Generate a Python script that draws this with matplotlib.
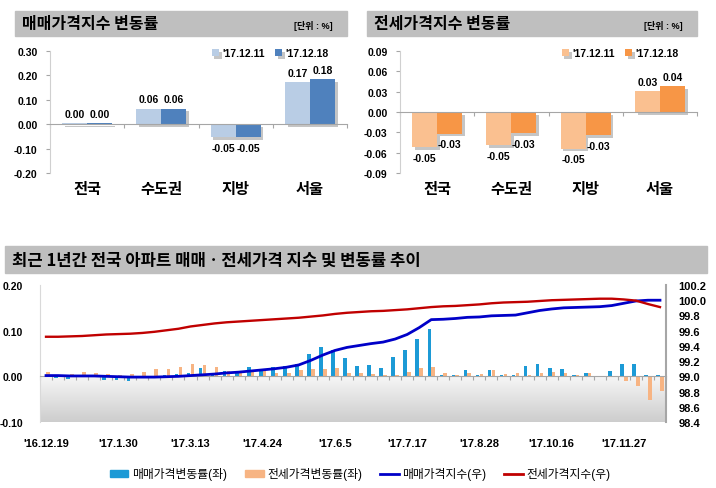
"""Weekly apartment sale / jeonse price index change chart (three panels)."""

import matplotlib

matplotlib.use("Agg")
import matplotlib.patheffects as pe
import matplotlib.pyplot as plt
import numpy as np
from matplotlib.colors import LinearSegmentedColormap
from matplotlib.lines import Line2D
from matplotlib.patches import Patch, Rectangle

plt.rcParams["font.family"] = ["Liberation Sans", "Noto Sans CJK KR", "DejaVu Sans"]

# --- top panels: weekly change by region (%) ---
regions = ["전국", "수도권", "지방", "서울"]
series_labels = ["'17.12.11", "'17.12.18"]
sale_prev = [0.003, 0.064, -0.054, 0.174]
sale_curr = [0.004, 0.064, -0.054, 0.184]
jeonse_prev = [-0.052, -0.049, -0.054, 0.031]
jeonse_curr = [-0.032, -0.031, -0.034, 0.038]

# --- bottom panel: 52 weekly observations '16.12.19 .. '17.12.18 ---
date_ticks = ["'16.12.19", "'17.1.30", "'17.3.13", "'17.4.24", "'17.6.5",
              "'17.7.17", "'17.8.28", "'17.10.16", "'17.11.27"]
sale_chg = [0.001, -0.004, -0.006, -0.002, 0.001, -0.007, -0.009, -0.011, 0.000, 0.001,
            0.003, 0.005, 0.008, 0.019, 0.004, 0.012, 0.011, 0.021, 0.016, 0.021,
            0.022, 0.026, 0.049, 0.065, 0.057, 0.040, 0.023, 0.024, 0.018, 0.042,
            0.058, 0.082, 0.103, 0.004, 0.004, 0.014, 0.004, 0.014, 0.004, 0.004,
            0.022, 0.027, 0.018, 0.017, 0.002, 0.007, 0.001, 0.012, 0.028, 0.027,
            0.002, 0.002]
jeonse_chg = [0.010, 0.001, 0.005, 0.010, 0.007, 0.005, 0.004, 0.006, 0.010, 0.015,
              0.015, 0.020, 0.026, 0.024, 0.020, 0.012, 0.009, 0.011, 0.011, 0.007,
              0.007, 0.013, 0.015, 0.017, 0.018, 0.007, 0.007, 0.005, 0.004, 0.004,
              0.010, 0.018, 0.020, 0.008, 0.002, 0.008, 0.006, 0.013, 0.005, 0.007,
              0.004, 0.008, 0.010, 0.007, 0.003, 0.007, 0.001, -0.002, -0.011, -0.022,
              -0.051, -0.033]
sale_idx = [99.01, 99.01, 99.005, 99.005, 99.005, 99.0, 98.995, 98.99, 98.99, 98.99,
            98.995, 99.0, 99.01, 99.02, 99.03, 99.045, 99.055, 99.07, 99.085, 99.10,
            99.12, 99.15, 99.21, 99.28, 99.34, 99.38, 99.405, 99.43, 99.45, 99.49,
            99.55, 99.64, 99.745, 99.75, 99.76, 99.775, 99.78, 99.795, 99.80, 99.805,
            99.835, 99.865, 99.885, 99.90, 99.905, 99.91, 99.915, 99.93, 99.96, 99.99,
            100.0, 100.0]
jeonse_idx = [99.52, 99.52, 99.525, 99.53, 99.54, 99.55, 99.555, 99.56, 99.57, 99.585,
              99.605, 99.625, 99.655, 99.675, 99.695, 99.71, 99.72, 99.73, 99.74, 99.75,
              99.76, 99.77, 99.785, 99.80, 99.82, 99.835, 99.845, 99.855, 99.86, 99.87,
              99.88, 99.895, 99.91, 99.92, 99.925, 99.935, 99.945, 99.96, 99.97, 99.975,
              99.98, 99.99, 100.0, 100.005, 100.01, 100.015, 100.02, 100.02, 100.01, 99.995,
              99.95, 99.91]

W, H = 716, 489
GRID = "#A6A6A6"
fig = plt.figure(figsize=(W / 100, H / 100), dpi=100, facecolor="white")


def px_rect(x0, y0, x1, y1):
    """Pixel box (top-left origin) -> figure fraction rect."""
    return [x0 / W, 1 - y1 / H, (x1 - x0) / W, (y1 - y0) / H]


def title_bar(x0, y0, x1, y1, text, unit=None, size=11.5):
    fig.add_artist(Rectangle((x0 / W, 1 - y1 / H), (x1 - x0) / W, (y1 - y0) / H,
                             transform=fig.transFigure, color="#BFBFBF", zorder=0))
    fig.text((x0 + 7) / W, 1 - (y0 + y1) / 2 / H, text, ha="left", va="center",
             fontsize=size, fontweight="heavy", family=["Noto Sans CJK KR"])
    if unit:
        fig.text((x1 - 34) / W, 1 - (y0 + y1 + 3) / 2 / H, unit, ha="center", va="center",
                 fontsize=6.5, fontweight="bold")


def change_panel(rect, prev, curr, colors, ylim, yticks):
    ax = fig.add_axes(px_rect(*rect))
    x = np.arange(len(regions))
    w = 0.337
    shadow = [pe.SimplePatchShadow(offset=(2, -2), shadow_rgbFace="#7F7F7F", alpha=0.45),
              pe.Normal()]
    for off, vals, color, label in ((-w / 2, prev, colors[0], series_labels[0]),
                                    (w / 2, curr, colors[1], series_labels[1])):
        bars = ax.bar(x + off, vals, w, color=color, label=label, zorder=2)
        for b in bars:
            b.set_path_effects(shadow)
        for xi, v in zip(x + off, vals):
            ax.annotate(f"{v:.2f}", (xi, v), xytext=(0, 3 if v >= 0 else -4),
                        textcoords="offset points", ha="center",
                        va="bottom" if v >= 0 else "top", fontsize=7.5, fontweight="bold")
    for xi, name in zip(x, regions):
        ax.text(xi, -0.13, name, transform=ax.get_xaxis_transform(), ha="center",
                va="center", fontsize=11, fontweight="heavy")
    ax.set_xlim(-0.5, len(regions) - 0.5)
    ax.set_ylim(*ylim)
    ax.set_yticks(yticks)
    ax.set_yticklabels([f"{t:.2f}" for t in yticks])
    ax.set_xticks(np.arange(len(regions) + 1) - 0.5)
    ax.set_xticklabels([])
    ax.tick_params(axis="x", length=3, color=GRID)
    ax.tick_params(axis="y", length=3, color=GRID, pad=6, labelsize=7.5)
    for t in ax.get_yticklabels():
        t.set_fontweight("bold")
    for side in ("top", "right"):
        ax.spines[side].set_visible(False)
    ax.spines["bottom"].set_position(("data", 0))
    ax.spines["bottom"].set_color(GRID)
    ax.spines["left"].set_color("#D0D0D0")
    ax.legend(loc="upper right", bbox_to_anchor=(0.97, 1.1), ncol=2, frameon=False,
              handlelength=0.7, handleheight=0.7, handletextpad=0.3, columnspacing=1.0,
              prop={"weight": "bold", "size": 7.5})
    return ax


# top-left: sale price index change
title_bar(15, 12, 347, 37, "매매가격지수 변동률", "[단위 : %]")
change_panel((50, 52, 347, 174), sale_prev, sale_curr, ("#B9CDE5", "#4F81BD"),
             (-0.20, 0.30), np.arange(-0.20, 0.301, 0.10))

# top-right: jeonse price index change
title_bar(367, 12, 697, 37, "전세가격지수 변동률", "[단위 : %]")
change_panel((400, 52, 697, 174), jeonse_prev, jeonse_curr, ("#FAC090", "#F79646"),
             (-0.09, 0.09), np.arange(-0.09, 0.091, 0.03))

# bottom: weekly trend
title_bar(5, 247, 707, 274, "최근 1년간 전국 아파트 매매ㆍ전세가격 지수 및 변동률 추이", size=12)
ax = fig.add_axes(px_rect(40, 286, 666, 423))
n = len(sale_chg)
x = np.arange(n)

grad = LinearSegmentedColormap.from_list("grad", ["#F6F6F6", "#CDCDCD"])
ax.imshow(np.linspace(0, 1, 256)[:, None], extent=(-0.5, n - 0.5, -0.10, 0.0),
          aspect="auto", cmap=grad, origin="upper", zorder=0)
ax.bar(x - 0.16, sale_chg, 0.3, color="#1C9AD6", zorder=2)
ax.bar(x + 0.16, jeonse_chg, 0.3, color="#F7B483", zorder=2)
ax.set_xlim(-0.5, n - 0.5)
ax.set_ylim(-0.10, 0.20)
ax.set_yticks([-0.10, 0.0, 0.10, 0.20])
ax.set_yticklabels(["-0.10", "0.00", "0.10", "0.20"])
ax.set_xticks(np.arange(n + 1) - 0.5)
ax.set_xticklabels([])
ax.tick_params(axis="x", length=3, color=GRID)
ax.tick_params(axis="y", length=0, pad=12, labelsize=7.5)
for t in ax.get_yticklabels():
    t.set_fontweight("bold")
for side in ("top", "right"):
    ax.spines[side].set_visible(False)
ax.spines["bottom"].set_position(("data", 0))
ax.spines["bottom"].set_color(GRID)
ax.spines["left"].set_color("#D9D9D9")
for k, lab in enumerate(date_ticks):
    ax.text(k * 6, -0.15, lab, transform=ax.get_xaxis_transform(), ha="center",
            va="center", fontsize=8, fontweight="bold")

ax2 = ax.twinx()
ax2.plot(x, sale_idx, color="#0000C8", lw=2.0, zorder=3)
ax2.plot(x, jeonse_idx, color="#C00000", lw=1.7, zorder=3)
ax2.set_ylim(98.4, 100.2)
right_ticks = np.arange(98.4, 100.21, 0.2)
ax2.set_yticks(right_ticks)
ax2.set_yticklabels([f"{t:.1f}" for t in right_ticks])
ax2.tick_params(axis="y", length=0, pad=9, labelsize=8)
for t in ax2.get_yticklabels():
    t.set_fontweight("bold")
for side in ("top", "left", "bottom"):
    ax2.spines[side].set_visible(False)
ax2.spines["right"].set_color(GRID)
ax2.spines["right"].set_linewidth(1.5)

handles = [Patch(color="#1C9AD6"), Patch(color="#F7B483"),
           Line2D([], [], color="#0000C8", lw=2), Line2D([], [], color="#C00000", lw=2)]
labels = ["매매가격변동률(좌)", "전세가격변동률(좌)", "매매가격지수(우)", "전세가격지수(우)"]
fig.legend(handles, labels, loc="center", bbox_to_anchor=(0.503, 1 - 475 / H), ncol=4,
           frameon=False, fontsize=8.5, handlelength=1.6, handleheight=0.5,
           handletextpad=0.3, columnspacing=1.5)

fig.savefig("out.png", dpi=100, facecolor="white")
